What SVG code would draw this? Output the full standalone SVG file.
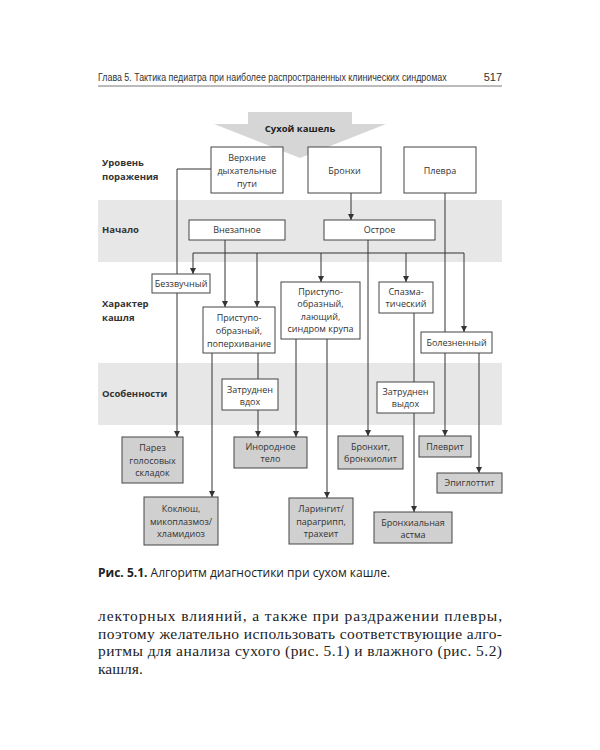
<svg xmlns="http://www.w3.org/2000/svg" width="600" height="750" viewBox="0 0 600 750">
<defs>
<marker id="ah" markerWidth="6" markerHeight="6" refX="6" refY="3" orient="auto" markerUnits="userSpaceOnUse"><path d="M0,0 L6,3 L0,6 z" fill="#333"/></marker>
<style>
.hdr{font-family:"Liberation Sans",Arial,sans-serif;font-size:11px;fill:#333}
.lbl{font-family:"Open Sans","Liberation Sans",sans-serif;font-size:9.5px;font-weight:bold;fill:#333}
.n rect{fill:#fff;stroke:#444;stroke-width:1}
.r rect{fill:#d0d0d0;stroke:#444;stroke-width:1}
.n text,.r text{font-family:"Open Sans","Liberation Sans",sans-serif;font-size:9px;fill:#333;text-anchor:middle}
.c path{fill:none;stroke:#333;stroke-width:1}
.c path.a{marker-end:url(#ah)}
.cap{font-family:"Open Sans","Liberation Sans",sans-serif;font-size:12px;fill:#222}
.body{font-size:15.5px;fill:#222}
</style>
</defs>
<rect width="600" height="750" fill="#fff"/>
<text class="hdr" transform="translate(98,81) scale(0.84,1)" x="0" y="0" textLength="415" lengthAdjust="spacingAndGlyphs">Глава 5. Тактика педиатра при наиболее распространенных клинических синдромах</text>
<text class="hdr" x="502" y="81" text-anchor="end" font-size="12">517</text>
<line x1="98" y1="86" x2="502" y2="86" stroke="#555" stroke-width="0.8"/>

<rect x="98" y="200" width="404" height="62" fill="#e7e7e7"/>
<rect x="98" y="363" width="404" height="62" fill="#e7e7e7"/>
<polygon points="248,112 352,112 352,124 386,124 300,158 214,124 248,124" fill="#d6d6d6"/>
<text x="300" y="132" text-anchor="middle" style="font-family:'Open Sans','Liberation Sans',sans-serif;font-size:9.5px;font-weight:bold;fill:#222">Сухой кашель</text>

<text class="lbl" x="102" y="166">Уровень</text>
<text class="lbl" x="102" y="180">поражения</text>
<text class="lbl" x="102" y="233">Начало</text>
<text class="lbl" x="102" y="307">Характер</text>
<text class="lbl" x="102" y="321">кашля</text>
<text class="lbl" x="102" y="397">Особенности</text>

<g class="c">
<path class="a" d="M211,169 H177 V437"/>
<path class="a" d="M351,193 V220"/>
<path class="a" d="M445,193 V436"/>
<path class="a" d="M225,240 V307"/>
<path d="M193,253 H464"/>
<path class="a" d="M193,253 V274"/>
<path class="a" d="M257,253 V307"/>
<path class="a" d="M321,253 V282"/>
<path class="a" d="M406,253 V282"/>
<path class="a" d="M464,253 V332"/>
<path class="a" d="M368,240 V436"/>
<path class="a" d="M212,353 V497"/>
<path class="a" d="M258,353 V437"/>
<path class="a" d="M296,339 V437"/>
<path class="a" d="M327,339 V498"/>
<path class="a" d="M414,313 V512"/>
<path class="a" d="M479,353 V473"/>
</g>

<g id="verh" class="n"><rect x="211" y="147" width="72" height="46"/><text x="247" y="161">Верхние</text><text x="247" y="174">дыхательные</text><text x="247" y="187">пути</text></g>
<g id="bronhi" class="n"><rect x="308" y="147" width="73" height="46"/><text x="344.5" y="174">Бронхи</text></g>
<g id="plevra" class="n"><rect x="404" y="147" width="72" height="46"/><text x="440" y="174">Плевра</text></g>
<g id="vnez" class="n"><rect x="189" y="220" width="96" height="20"/><text x="237" y="233">Внезапное</text></g>
<g id="ostroe" class="n"><rect x="324" y="220" width="111" height="20"/><text x="379.5" y="233">Острое</text></g>
<g id="bezzv" class="n"><rect x="152" y="274" width="58" height="19"/><text x="181" y="286.5">Беззвучный</text></g>
<g id="prist1" class="n"><rect x="203" y="307" width="72" height="46"/><text x="239" y="321">Приступо-</text><text x="239" y="334">образный,</text><text x="239" y="347">поперхивание</text></g>
<g id="prist2" class="n"><rect x="281" y="282" width="79" height="57"/><text x="320.5" y="294.5">Приступо-</text><text x="320.5" y="307">образный,</text><text x="320.5" y="319.5">лающий,</text><text x="320.5" y="332">синдром крупа</text></g>
<g id="spazm" class="n"><rect x="379" y="282" width="54" height="31"/><text x="406" y="294.5">Спазма-</text><text x="406" y="306.5">тический</text></g>
<g id="bolezn" class="n"><rect x="421" y="332" width="71" height="21"/><text x="456.5" y="346">Болезненный</text></g>
<g id="zvdoh" class="n"><rect x="222" y="379" width="56" height="31"/><text x="250" y="393">Затруднен</text><text x="250" y="405">вдох</text></g>
<g id="zvydoh" class="n"><rect x="377" y="382" width="57" height="31"/><text x="405.5" y="395">Затруднен</text><text x="405.5" y="407">выдох</text></g>

<g id="parez" class="r"><rect x="122" y="437" width="61" height="46"/><text x="152.5" y="451">Парез</text><text x="152.5" y="463.5">голосовых</text><text x="152.5" y="476">складок</text></g>
<g id="inorod" class="r"><rect x="234" y="437" width="73" height="31"/><text x="270.5" y="450">Инородное</text><text x="270.5" y="462">тело</text></g>
<g id="bronhit" class="r"><rect x="338" y="436" width="65" height="33"/><text x="370.5" y="450">Бронхит,</text><text x="370.5" y="462">бронхиолит</text></g>
<g id="plevrit" class="r"><rect x="419" y="436" width="52" height="21"/><text x="445" y="450">Плеврит</text></g>
<g id="epiglot" class="r"><rect x="437" y="473" width="65" height="20"/><text x="469.5" y="486">Эпиглоттит</text></g>
<g id="koklush" class="r"><rect x="144" y="497" width="74" height="48"/><text x="181" y="512">Коклюш,</text><text x="181" y="525">микоплазмоз/</text><text x="181" y="537">хламидиоз</text></g>
<g id="laring" class="r"><rect x="289" y="498" width="64" height="46"/><text x="321" y="512">Ларингит/</text><text x="321" y="525">парагрипп,</text><text x="321" y="537">трахеит</text></g>
<g id="astma" class="r"><rect x="374" y="512" width="78" height="31"/><text x="413" y="526">Бронхиальная</text><text x="413" y="538">астма</text></g>

<text class="cap" x="98" y="577"><tspan font-weight="bold">Рис. 5.1.</tspan> Алгоритм диагностики при сухом кашле.</text>

<g font-family="'Liberation Serif', 'DejaVu Serif', serif">
<text class="body" x="98" y="621" textLength="404" lengthAdjust="spacing">лекторных влияний, а также при раздражении плевры,</text>
<text class="body" x="98" y="638.5" textLength="404" lengthAdjust="spacing">поэтому желательно использовать соответствующие алго-</text>
<text class="body" x="98" y="656" textLength="404" lengthAdjust="spacing">ритмы для анализа сухого (рис. 5.1) и влажного (рис. 5.2)</text>
<text class="body" x="98" y="673.5">кашля.</text>
</g>
</svg>
